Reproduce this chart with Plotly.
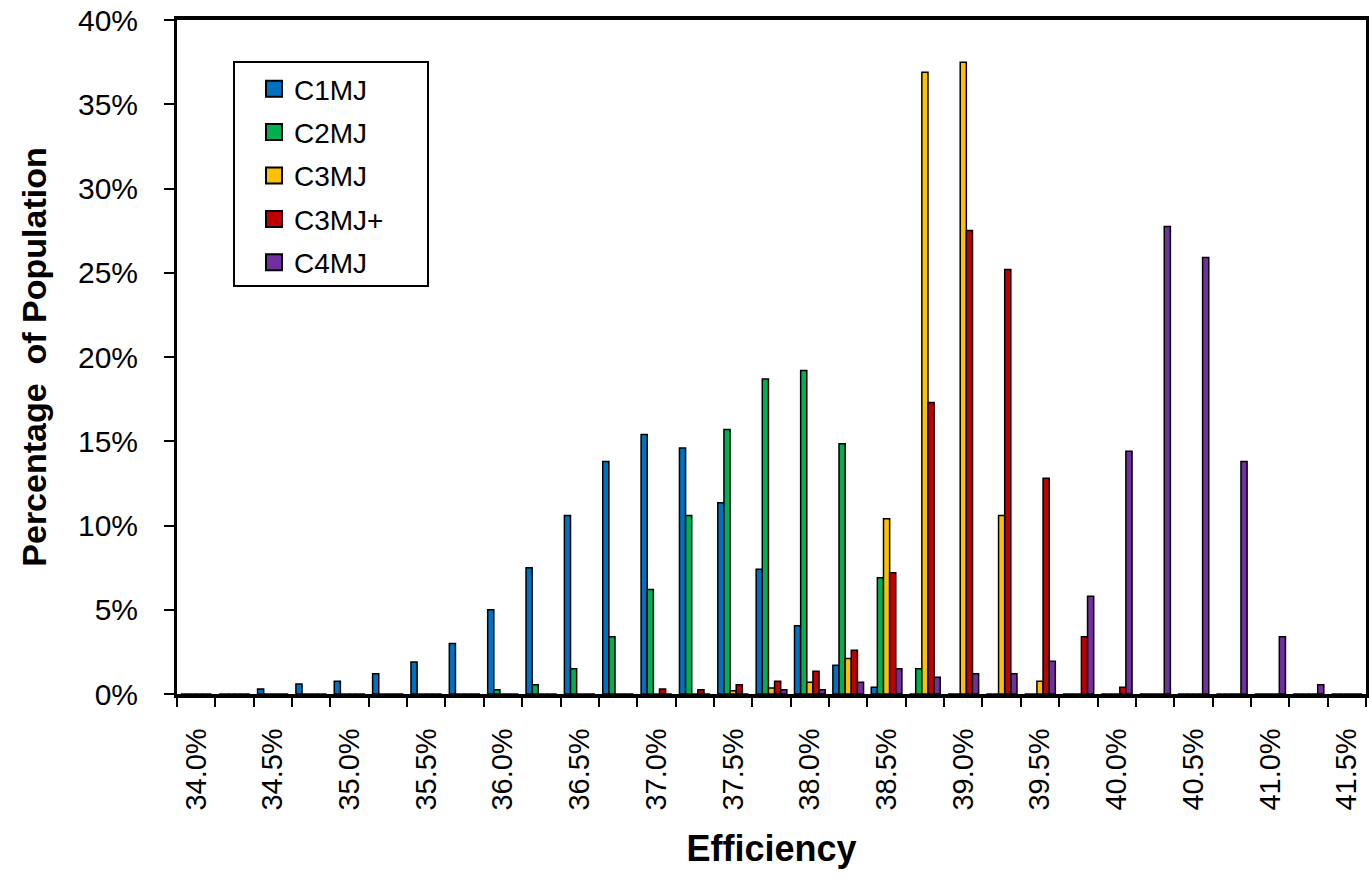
import plotly.graph_objects as go

# Efficiency bins (%), 34.00 .. 41.50 in 0.25 steps
efficiency = [34.00, 34.25, 34.50, 34.75, 35.00, 35.25, 35.50, 35.75,
              36.00, 36.25, 36.50, 36.75, 37.00, 37.25, 37.50, 37.75,
              38.00, 38.25, 38.50, 38.75, 39.00, 39.25, 39.50, 39.75,
              40.00, 40.25, 40.50, 40.75, 41.00, 41.25, 41.50]

# Percentage of population per bin (%)
c1mj = [0, 0, 0.3, 0.6, 0.75, 1.2, 1.9, 3.0,
        5.0, 7.5, 10.6, 13.8, 15.4, 14.6, 11.35, 7.4,
        4.05, 1.7, 0.4, 0, 0, 0, 0, 0,
        0, 0, 0, 0, 0, 0, 0]
c2mj = [0, 0, 0, 0, 0, 0, 0, 0,
        0.25, 0.55, 1.5, 3.4, 6.2, 10.6, 15.7, 18.7,
        19.2, 14.85, 6.9, 1.5, 0, 0, 0, 0,
        0, 0, 0, 0, 0, 0, 0]
c3mj = [0, 0, 0, 0, 0, 0, 0, 0,
        0, 0, 0, 0, 0, 0, 0.2, 0.35,
        0.7, 2.1, 10.4, 36.9, 37.5, 10.6, 0.75, 0,
        0, 0, 0, 0, 0, 0, 0]
c3mj_plus = [0, 0, 0, 0, 0, 0, 0, 0,
             0, 0, 0, 0, 0.3, 0.25, 0.55, 0.75,
             1.35, 2.6, 7.2, 17.3, 27.5, 25.2, 12.8, 3.4,
             0.4, 0, 0, 0, 0, 0, 0]
c4mj = [0, 0, 0, 0, 0, 0, 0, 0,
        0, 0, 0, 0, 0, 0, 0, 0.25,
        0.25, 0.7, 1.5, 1.0, 1.2, 1.2, 1.95, 5.8,
        14.4, 27.75, 25.9, 13.8, 3.4, 0.55, 0]

series_names = ["C1MJ", "C2MJ", "C3MJ", "C3MJ+", "C4MJ"]
series_values = [c1mj, c2mj, c3mj, c3mj_plus, c4mj]
series_colors = ["#0070C0", "#00B050", "#FFC000", "#C00000", "#7030A0"]

x_tick_vals = [34.0, 34.5, 35.0, 35.5, 36.0, 36.5, 37.0, 37.5,
               38.0, 38.5, 39.0, 39.5, 40.0, 40.5, 41.0, 41.5]
x_tick_text = ["34.0%", "34.5%", "35.0%", "35.5%", "36.0%", "36.5%", "37.0%", "37.5%",
               "38.0%", "38.5%", "39.0%", "39.5%", "40.0%", "40.5%", "41.0%", "41.5%"]
y_tick_vals = [0, 5, 10, 15, 20, 25, 30, 35, 40]
y_tick_text = ["0%", "5%", "10%", "15%", "20%", "25%", "30%", "35%", "40%"]

FONT = "Liberation Sans, Arial, sans-serif"

fig = go.Figure()
for name, vals, col in zip(series_names, series_values, series_colors):
    fig.add_trace(go.Bar(
        x=efficiency, y=vals, name=name, showlegend=False,
        marker=dict(color=col, line=dict(color="black", width=1.5)),
    ))
# legend entries (larger square swatches)
for name, col in zip(series_names, series_colors):
    fig.add_trace(go.Scatter(
        x=[None], y=[None], mode="markers", name=name, legendgroup=name,
        marker=dict(symbol="square", size=16, color=col,
                    line=dict(color="black", width=2)),
    ))

# body margin is removed below, so figure pixels == page pixels
W, H = 1369, 893
PL, PR, PT, PB = 177, 1366, 20, 694          # plot area in page pixels
L, R, T, B = PL, W - PR, PT, H - PB
pw = W - L - R
ph = H - T - B

def px_x(p):
    return (p - L) / pw

def px_y(p):
    return (H - B - p) / ph

fig.update_layout(
    width=W, height=H,
    margin=dict(l=L, r=R, t=T, b=B, pad=0, autoexpand=False),
    paper_bgcolor="white", plot_bgcolor="white",
    barmode="group", bargap=0.2, bargroupgap=0,
    font=dict(family=FONT, color="black", size=28),
    showlegend=True,
    legend=dict(
        x=px_x(254), y=px_y(64), xanchor="left", yanchor="top",
        bgcolor="rgba(0,0,0,0)", borderwidth=0,
        font=dict(family=FONT, size=28, color="black"),
        traceorder="grouped", tracegroupgap=4,
        itemsizing="trace",
    ),
    shapes=[dict(type="rect", xref="paper", yref="paper",
                 x0=px_x(234), x1=px_x(428), y0=px_y(286), y1=px_y(62),
                 line=dict(color="black", width=2), fillcolor="white",
                 layer="below")],
)

fig.update_xaxes(
    range=[33.875, 41.625], automargin=False,
    tickmode="array", tickvals=x_tick_vals, ticktext=x_tick_text,
    tickangle=-90, ticks="", ticklabelstandoff=19,
    ticklabeloverflow="allow",
    tickfont=dict(family=FONT, size=29, color="black"),
    minor=dict(ticks="outside", tick0=33.875, dtick=0.25, ticklen=9,
               tickwidth=2, tickcolor="black"),
    showline=True, linecolor="black", linewidth=3.5, mirror=True,
    showgrid=False, zeroline=False,
    title=dict(text="Efficiency", standoff=27,
               font=dict(family=FONT, size=36, color="black", weight="bold")),
)
fig.update_yaxes(
    range=[0, 40], automargin=False,
    tickmode="array", tickvals=y_tick_vals, ticktext=y_tick_text,
    ticks="outside", ticklen=10, tickwidth=2, tickcolor="black",
    ticklabelstandoff=20, ticklabeloverflow="allow",
    tickfont=dict(family=FONT, size=30, color="black"),
    showline=True, linecolor="black", linewidth=3, mirror=True,
    showgrid=False, zeroline=False,
    title=dict(text="Percentage\u00a0 of Population", standoff=22,
               font=dict(family=FONT, size=34, color="black", weight="bold")),
)

fig.write_html("out.html",
               config={"displayModeBar": False},
               post_script="document.body.style.margin='0px';"
                           "document.body.style.overflow='hidden';")
